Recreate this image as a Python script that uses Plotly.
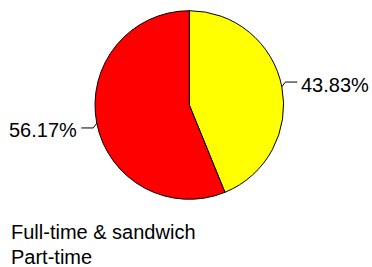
import math
import plotly.graph_objects as go

# Data
categories = ["Full-time & sandwich", "Part-time"]
values = [43.83, 56.17]
slice_colors = ["#FFFF00", "#FF0000"]
legend_labels = ["Full-time & sandwich", "Part-time"]

W, H = 372, 267
FONT = "Liberation Sans, Arial, sans-serif"

# pie geometry in pixels
cx, cy, r = 189.3, 105.0, 94.3

def px2paper(x, y):
    return x / W, 1 - y / H

fig = go.Figure()
x0, y1 = px2paper(cx - r, cy - r)
x1, y0 = px2paper(cx + r, cy + r)
fig.add_trace(go.Pie(
    labels=categories, values=values, sort=False, direction="clockwise",
    rotation=0, textinfo="none", hoverinfo="label+percent",
    marker=dict(colors=slice_colors, line=dict(color="black", width=1)),
    domain=dict(x=[x0, x1], y=[y0, y1]), showlegend=False,
))

shapes = []
annotations = []
total = sum(values)
cum = 0.0
for v in values:
    frac = v / total
    mid = (cum + frac / 2) * 2 * math.pi
    cum += frac
    sx = cx + r * math.sin(mid)
    sy = cy - r * math.cos(mid)
    side = 1 if math.sin(mid) >= 0 else -1
    vdir = -1 if math.cos(mid) >= 0 else 1
    ex, ey = sx + side * 3.5, sy + vdir * 4.8
    hx = ex + side * 12
    pts = [px2paper(sx, sy), px2paper(ex, ey), px2paper(hx, ey)]
    path = "M {} {} L {} {} L {} {}".format(*[c for p in pts for c in p])
    shapes.append(dict(type="path", xref="paper", yref="paper", path=path,
                       line=dict(color="black", width=1)))
    tx, ty = px2paper(hx + side * 2, ey + 2.5)
    annotations.append(dict(x=tx, y=ty, xref="paper", yref="paper",
                            text=f"{frac*100:.2f}%", showarrow=False,
                            xanchor="left" if side > 0 else "right",
                            yanchor="middle",
                            font=dict(family=FONT, size=20, color="black")))

for i, lab in enumerate(legend_labels):
    lx, ly = px2paper(10, 232 + 24.5 * i)
    annotations.append(dict(x=lx, y=ly, xref="paper", yref="paper", text=lab,
                            showarrow=False, xanchor="left", yanchor="middle",
                            borderpad=0,
                            font=dict(family=FONT, size=20, color="black")))

fig.update_layout(width=W, height=H, margin=dict(l=0, r=0, t=0, b=0),
                  paper_bgcolor="white", plot_bgcolor="white",
                  shapes=shapes, annotations=annotations, showlegend=False)
fig.write_html("out.html", config={"displayModeBar": False},
               post_script="document.body.style.margin='0px';"
                           "document.body.style.overflow='hidden';")
